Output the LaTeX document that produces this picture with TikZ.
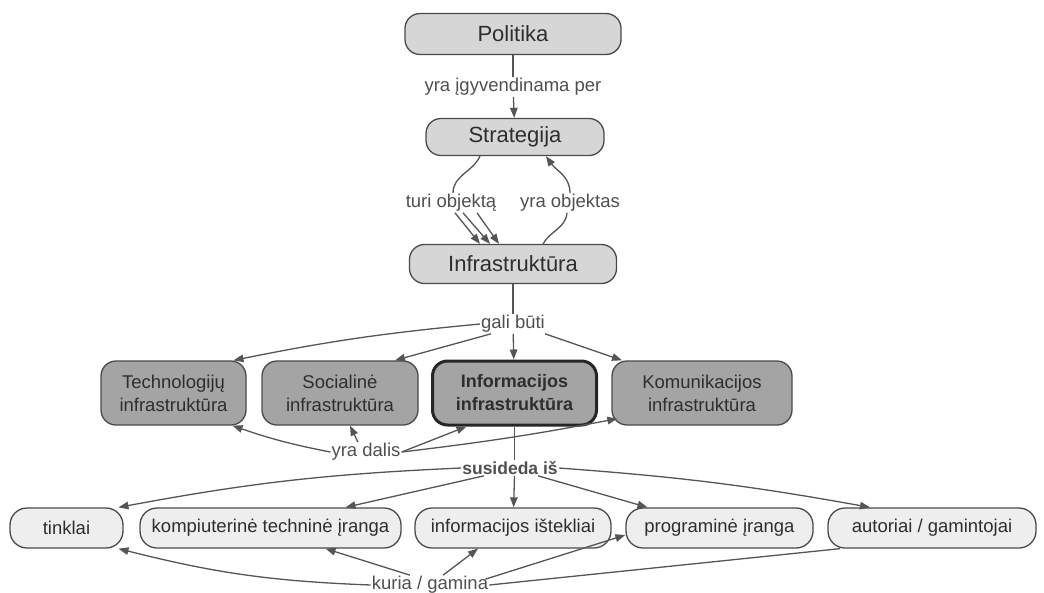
\documentclass[tikz,border=0pt]{standalone}
\usepackage{fontspec}
\setmainfont{Liberation Sans}
\usetikzlibrary{arrows.meta}
\definecolor{edgegray}{HTML}{555555}
\definecolor{boxline}{HTML}{4A4A4A}
\definecolor{toptone}{HTML}{D6D6D6}
\definecolor{midtone}{HTML}{A4A4A4}
\definecolor{lowtone}{HTML}{EEEEEE}
\definecolor{inktone}{HTML}{2E2E2E}
\definecolor{linktone}{HTML}{505050}
\tikzset{
  concept/.style={draw=boxline, line width=1.3pt, rounded corners=15pt, text=inktone, inner sep=0pt, align=center},
  topbox/.style={concept, fill=toptone, font=\fontsize{22}{24}\selectfont},
  midbox/.style={concept, fill=midtone, font=\fontsize{18.5}{23}\selectfont, minimum height=64pt},
  keybox/.style={midbox, line width=3pt, draw=black!85, font=\fontsize{18}{23}\selectfont\bfseries},
  lowbox/.style={concept, fill=lowtone, rounded corners=17pt, font=\fontsize{18.5}{22}\selectfont, minimum height=40pt},
  linkword/.style={text=linktone, font=\fontsize{18.5}{20}\selectfont, inner sep=1pt, fill=white},
  ln/.style={draw=edgegray, line width=1.3pt},
  arr/.style={ln, -{Triangle[length=10pt,width=7.5pt]}},
}
\begin{document}
\begin{tikzpicture}[x=1pt,y=-1pt]
\useasboundingbox (0,0) rectangle (1044,592);

% concepts
\node[topbox, minimum width=216pt, minimum height=41pt] (pol) at (513,34) {Politika};
\node[topbox, minimum width=178pt, minimum height=37pt] (str) at (515,137) {Strategija};
\node[topbox, minimum width=207pt, minimum height=39pt] (infra) at (513,264) {Infrastruktūra};

\node[midbox, minimum width=145pt] (tech) at (173.5,393) {Technologijų\\infrastruktūra};
\node[midbox, minimum width=156pt] (soc) at (340,393) {Socialinė\\infrastruktūra};
\node[keybox, minimum width=164pt] (inf) at (514.5,393) {Informacijos\\infrastruktūra};
\node[midbox, minimum width=180pt] (kom) at (702,393) {Komunikacijos\\infrastruktūra};

\node[lowbox, minimum width=113pt] (tink) at (66.5,528) {tinklai};
\node[lowbox, minimum width=261pt] (komp) at (270.5,528) {kompiuterinė techninė įranga};
\node[lowbox, minimum width=196pt] (istk) at (513,528) {informacijos ištekliai};
\node[lowbox, minimum width=187pt] (prog) at (719.5,528) {programinė įranga};
\node[lowbox, minimum width=208pt] (aut) at (932,528) {autoriai / gamintojai};

% linking phrases
\node[linkword] (yip) at (513,87) {yra įgyvendinama per};
\node[linkword] (turi) at (451,203) {turi objektą};
\node[linkword] (yobj) at (570,203) {yra objektas};
\node[linkword] (gali) at (513,324) {gali būti};
\node[linkword] (dalis) at (366,452) {yra dalis};
\node[linkword, font=\fontsize{17.5}{20}\selectfont\bfseries] (susi) at (510,468) {susideda iš};
\node[linkword] (kur) at (430,585) {kuria / gamina};

% Politika -> Strategija
\draw[ln] (pol) -- (yip);
\draw[arr] (yip) -- (str);

% Strategija <-> Infrastruktura (out/in angles are page directions)
\draw[ln] ([xshift=-35]str.south) to[out=-115,in=90] ([xshift=2]turi.north);
\draw[arr] ([xshift=4]turi.south) -- ([xshift=-33]infra.north);
\draw[arr] ([xshift=12]turi.south) -- ([xshift=-23]infra.north);
\draw[arr] ([xshift=26]turi.south) -- ([xshift=-14]infra.north);
\draw[ln] ([xshift=30]infra.north) to[out=60,in=-95] ([xshift=-3]yobj.south);
\draw[arr] (yobj.north) to[out=90,in=-55] ([xshift=31]str.south);

% Infrastruktura -> kinds
\draw[ln] (infra) -- (gali);
\draw[arr] (gali.west) to[bend right=3] ([xshift=60]tech.north);
\draw[arr] ([xshift=-22]gali.south) -- ([xshift=55]soc.north);
\draw[arr] (gali) -- (inf);
\draw[arr] ([xshift=32]gali.south) -- ([xshift=-80]kom.north);

% yra dalis
\draw[arr] (dalis.west) to[bend left=4] ([xshift=59]tech.south);
\draw[arr] ([xshift=-8]dalis.north) -- ([xshift=10]soc.south);
\draw[arr] (dalis.east) -- ([xshift=-48]inf.south);
\draw[arr] (dalis.east) to[bend right=2] ([xshift=6,yshift=7]kom.south west);

% Informacijos infrastruktura -> parts
\draw[ln] (inf.south) -- (inf.south |- susi.north);
\draw[arr] (susi.west) to[bend right=4] ([xshift=52]tink.north);
\draw[arr] ([xshift=-26]susi.south) -- ([xshift=75]komp.north);
\draw[arr] (inf.south |- susi.south) -- (istk);
\draw[arr] ([xshift=28]susi.south) -- ([xshift=-72]prog.north);
\draw[arr] (susi.east) to[bend left=3] ([xshift=-62]aut.north);

% kuria / gamina
\draw[ln] ([xshift=-92]aut.south) -- (kur.east);
\draw[arr] (kur.west) to[bend left=6] ([xshift=52]tink.south);
\draw[arr] ([xshift=-20]kur.north) -- ([xshift=55]komp.south);
\draw[arr] ([xshift=13]kur.north) -- ([xshift=-35]istk.south);
\draw[arr] ([xshift=-4,yshift=-4]kur.north east) -- ([yshift=-7]prog.west);
\end{tikzpicture}
\end{document}
